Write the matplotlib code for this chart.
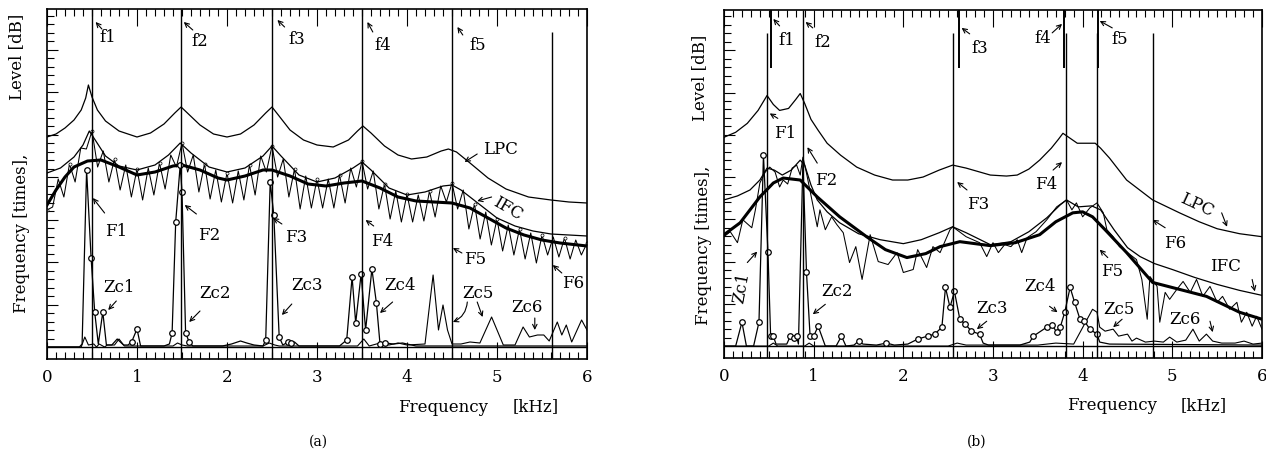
import numpy as np
import matplotlib.pyplot as plt

plt.rcParams['font.family'] = 'DejaVu Serif'

# ---------------- panel (a) ----------------
# LPC envelope
LPC_A_X = [0, 0.1, 0.2, 0.3, 0.38, 0.43, 0.46, 0.5, 0.56, 0.65, 0.8, 1.0, 1.15, 1.3, 1.42, 1.49,
           1.56, 1.7, 1.85, 2.0, 2.15, 2.3, 2.43, 2.5, 2.57, 2.7, 2.85, 3.0, 3.18, 3.35, 3.45, 3.51,
           3.6, 3.75, 3.9, 4.05, 4.22, 4.38, 4.46, 4.55, 4.7, 4.9, 5.1, 5.35, 5.6, 5.8, 6.0]
LPC_A_Y = [210, 213, 219, 227, 237, 249, 262, 250, 237, 226, 216, 210, 214, 223, 234, 240,
           234, 222, 213, 210, 213, 222, 234, 240, 232, 217, 207, 202, 200, 207, 216, 221,
           214, 201, 192, 188, 190, 196, 198, 195, 184, 169, 158, 150, 147, 145, 144]
# smoothed spectrum envelope (thin)
ENV_A_X = [0, 0.15, 0.3, 0.4, 0.47, 0.55, 0.65, 0.8, 1.0, 1.2, 1.35, 1.48, 1.6, 1.8, 2.0, 2.2,
           2.4, 2.5, 2.6, 2.8, 3.0, 3.2, 3.4, 3.5, 3.6, 3.8, 4.0, 4.2, 4.4, 4.5, 4.6, 4.8,
           5.0, 5.2, 5.4, 5.6, 5.8, 6.0]
ENV_A_Y = [174, 179, 190, 202, 216, 205, 191, 181, 177, 182, 192, 204, 194, 180, 175, 179,
           191, 201, 191, 172, 165, 169, 179, 185, 177, 159, 152, 155, 161, 162, 157, 143,
           129, 121, 116, 113, 112, 111]
# IFC (thick)
IFC_A_X = [0, 0.1, 0.2, 0.3, 0.45, 0.6, 0.8, 1.0, 1.2, 1.4, 1.5, 1.7, 1.9, 2.0, 2.2, 2.4, 2.5,
           2.7, 2.9, 3.1, 3.3, 3.5, 3.7, 3.9, 4.1, 4.3, 4.5, 4.7, 4.9, 5.1, 5.3, 5.5, 5.7, 6.0]
IFC_A_Y = [142, 157, 170, 180, 186, 187, 180, 172, 175, 181, 182, 177, 169, 167, 171, 177, 177,
           171, 163, 161, 164, 166, 159, 150, 146, 145, 144, 139, 129, 119, 112, 107, 104, 101]
# harmonic spectrum: peaks (every 0.125 kHz) and dips in between
SPEC_A_PEAK = [137, 168, 183, 199, 216, 196, 188, 182, 178, 179, 184, 192, 204, 192, 183, 177,
               174, 176, 182, 191, 201, 188, 178, 171, 168, 168, 172, 179, 186, 176, 163, 156,
               153, 152, 156, 161, 164, 157, 143, 135, 128, 122, 118, 114, 112, 110, 109, 107, 104]
SPEC_A_DIP = [140, 150, 165, 198, 180, 165, 157, 150, 147, 152, 158, 180, 175, 155, 148, 145,
              144, 147, 152, 175, 170, 150, 138, 139, 139, 139, 144, 160, 158, 138, 128, 125,
              125, 126, 130, 145, 138, 118, 108, 102, 96, 92, 88, 84, 92, 90, 88, 92]
# zero-crossing histogram (circles)
ZC_A_X = [0.0, 0.36, 0.39, 0.44, 0.49, 0.53, 0.57, 0.62, 0.66, 0.72, 0.78, 0.85, 0.90, 0.94,
          1.00, 1.04, 1.30, 1.36, 1.39, 1.43, 1.48, 1.50, 1.54, 1.58, 1.62, 1.70, 1.95, 2.05,
          2.15, 2.22, 2.30, 2.40, 2.43, 2.48, 2.52, 2.58, 2.62, 2.68, 2.71, 2.75, 2.80, 3.25,
          3.33, 3.39, 3.43, 3.49, 3.54, 3.61, 3.66, 3.70, 3.76, 3.85, 3.95, 4.10, 6.00]
ZC_A_Y = [0, 0, 3, 177, 89, 35, 3, 35, 2, 2, 8, 2, 2, 5, 18, 1, 1, 3, 14, 125, 182, 155, 14, 5,
          1, 1, 1, 3, 6, 4, 2, 1, 7, 165, 132, 10, 2, 5, 4, 5, 1, 1, 7, 70, 24, 73, 17, 78, 44,
          3, 4, 3, 4, 1, 1]
ZC_A_MX = [0.44, 0.49, 0.53, 0.62, 0.94, 1.00, 1.39, 1.43, 1.48, 1.50, 1.54, 1.58, 2.43, 2.48,
           2.52, 2.58, 2.68, 2.71, 3.33, 3.39, 3.43, 3.49, 3.54, 3.61, 3.66, 3.70, 3.76]
ZC_A_MY = [177, 89, 35, 35, 5, 18, 14, 125, 182, 155, 14, 5, 7, 165, 132, 10, 5, 4, 7, 70, 24,
           73, 17, 78, 44, 3, 4]
# second histogram (plus)
ZC2_A_X = [0.0, 0.38, 0.42, 0.46, 0.52, 0.55, 0.58, 0.64, 0.67, 0.75, 0.80, 0.86, 1.40, 1.45,
           1.50, 1.56, 2.40, 2.47, 2.53, 2.58, 3.45, 3.52, 3.58, 3.70, 3.80, 3.90, 4.00, 4.20,
           4.29, 4.35, 4.40, 4.45, 4.50, 4.60, 4.70, 4.81, 4.94, 5.07, 5.20, 5.29, 5.36, 5.45,
           5.52, 5.58, 5.67, 5.72, 5.77, 5.83, 5.94, 6.00]
ZC2_A_Y = [0, 0, 10, 2, 3, 0, 3, 0, 2, 2, 8, 1, 1, 4, 2, 1, 1, 4, 2, 1, 1, 8, 1, 4, 2, 4, 2, 3,
           72, 17, 42, 17, 3, 3, 5, 4, 30, 2, 2, 20, 10, 12, 12, 6, 25, 12, 22, 5, 27, 17]
VLINE_A_FULL = [0.50, 1.49, 2.50, 3.50, 4.50]
VLINE_A_PART = [5.61]

# ---------------- panel (b) ----------------
LPC_B_X = [0, 0.13, 0.26, 0.38, 0.48, 0.55, 0.62, 0.72, 0.80, 0.85, 0.90, 0.97, 1.05, 1.15,
           1.30, 1.48, 1.68, 1.88, 2.05, 2.22, 2.40, 2.55, 2.70, 2.97, 3.15, 3.27, 3.40, 3.52,
           3.65, 3.73, 3.78, 3.86, 3.94, 4.05, 4.14, 4.20, 4.30, 4.49, 4.78, 5.08, 5.30, 5.50,
           5.75, 6.00]
LPC_B_Y = [210, 215, 224, 237, 252, 243, 237, 239, 248, 254, 244, 228, 217, 204, 192, 180, 172,
           167, 167, 170, 177, 182, 179, 172, 171, 172, 178, 187, 199, 208, 214, 209, 204, 204,
           204, 199, 189, 167, 147, 134, 125, 118, 113, 110]
ENV_B_X = [0, 0.15, 0.29, 0.40, 0.48, 0.56, 0.65, 0.75, 0.85, 0.90, 0.97, 1.04, 1.15, 1.29,
           1.50, 1.74, 2.00, 2.20, 2.40, 2.55, 2.70, 2.97, 3.20, 3.40, 3.60, 3.75, 3.82, 3.95,
           4.10, 4.20, 4.35, 4.50, 4.64, 4.80, 5.00, 5.25, 5.50, 5.75, 6.00]
ENV_B_Y = [147, 151, 157, 167, 179, 177, 172, 177, 187, 182, 162, 147, 135, 124, 113, 107, 103,
           107, 114, 120, 114, 102, 105, 115, 129, 142, 147, 140, 141, 137, 117, 99, 90, 83, 77,
           69, 62, 56, 51]
IFC_B_X = [0, 0.18, 0.40, 0.55, 0.66, 0.85, 1.04, 1.29, 1.59, 1.80, 2.04, 2.25, 2.41, 2.63,
           2.97, 3.25, 3.52, 3.70, 3.89, 4.00, 4.11, 4.25, 4.49, 4.78, 5.08, 5.38, 5.75, 6.00]
IFC_B_Y = [112, 124, 150, 164, 169, 167, 150, 130, 110, 97, 89, 93, 100, 105, 101, 104, 112,
           125, 134, 135, 130, 117, 94, 64, 57, 50, 34, 27]
SPEC_B_X = [0.0, 0.07, 0.15, 0.21, 0.31, 0.35, 0.40, 0.46, 0.51, 0.57, 0.62, 0.66, 0.71, 0.76,
            0.81, 0.85, 0.88, 0.92, 0.98, 1.04, 1.07, 1.13, 1.20, 1.26, 1.33, 1.40, 1.47, 1.54,
            1.63, 1.72, 1.83, 1.93, 2.00, 2.11, 2.16, 2.26, 2.33, 2.41, 2.52, 2.55, 2.70, 2.85,
            2.93, 3.00, 3.06, 3.13, 3.20, 3.27, 3.32, 3.38, 3.48, 3.60, 3.71, 3.82, 3.88, 3.93,
            4.00, 4.08, 4.16, 4.23, 4.27, 4.34, 4.41, 4.50, 4.60, 4.66, 4.72, 4.75, 4.83, 4.86,
            4.92, 4.97, 5.05, 5.12, 5.20, 5.27, 5.34, 5.42, 5.50, 5.56, 5.64, 5.72, 5.77, 5.83,
            5.89, 5.94, 6.00]
SPEC_B_Y = [110, 115, 104, 127, 119, 137, 164, 175, 180, 175, 160, 167, 163, 179, 182, 172, 190,
            174, 147, 120, 137, 117, 130, 122, 114, 84, 100, 67, 112, 85, 82, 94, 74, 77, 97, 79,
            100, 94, 117, 120, 110, 104, 90, 104, 94, 102, 100, 107, 94, 109, 115, 127, 140, 147,
            137, 144, 130, 139, 144, 134, 117, 110, 100, 94, 87, 67, 27, 70, 60, 24, 54, 47, 57,
            65, 54, 67, 50, 60, 44, 50, 37, 44, 24, 34, 20, 30, 17]
ZC_B_X = [0.0, 0.13, 0.20, 0.25, 0.33, 0.39, 0.44, 0.49, 0.52, 0.55, 0.58, 0.70, 0.74, 0.78,
          0.81, 0.83, 0.88, 0.92, 0.96, 1.00, 1.05, 1.13, 1.25, 1.31, 1.36, 1.45, 1.50, 1.55,
          1.70, 1.81, 1.90, 2.05, 2.16, 2.27, 2.35, 2.43, 2.47, 2.52, 2.57, 2.63, 2.69, 2.76,
          2.85, 2.89, 2.95, 3.30, 3.41, 3.45, 3.60, 3.66, 3.71, 3.75, 3.80, 3.86, 3.91, 3.97,
          4.02, 4.08, 4.16, 4.19, 4.30, 6.00]
ZC_B_Y = [0, 0, 24, 0, 0, 24, 192, 95, 10, 10, 2, 2, 10, 8, 10, 2, 185, 74, 10, 10, 20, 0, 0,
          10, 0, 1, 5, 2, 1, 3, 1, 2, 7, 10, 12, 19, 59, 39, 55, 27, 22, 15, 12, 3, 1, 1, 4, 10,
          19, 21, 14, 19, 34, 59, 44, 27, 25, 17, 12, 4, 2, 1]
ZC_B_MX = [0.20, 0.39, 0.44, 0.49, 0.52, 0.55, 0.74, 0.78, 0.81, 0.92, 0.96, 1.00, 1.05, 1.31,
           1.50, 1.81, 2.16, 2.27, 2.35, 2.43, 2.47, 2.52, 2.57, 2.63, 2.69, 2.76, 2.85, 3.45,
           3.60, 3.66, 3.71, 3.75, 3.80, 3.86, 3.91, 3.97, 4.02, 4.08, 4.16]
ZC_B_MY = [24, 24, 192, 95, 10, 10, 10, 8, 10, 74, 10, 10, 20, 10, 5, 3, 7, 10, 12, 19, 59, 39,
           55, 27, 22, 15, 12, 10, 19, 21, 14, 19, 34, 59, 44, 27, 25, 17, 12]
ZC2_B_X = [0.0, 0.5, 0.55, 0.6, 0.9, 0.95, 1.0, 2.5, 2.6, 2.7, 3.5, 3.7, 3.9, 4.11, 4.16, 4.19,
           4.25, 4.34, 4.40, 4.50, 4.55, 4.60, 4.70, 4.80, 4.90, 4.97, 5.05, 5.15, 5.23, 5.30,
           5.38, 5.45, 5.55, 5.70, 5.80, 5.90, 6.00]
ZC2_B_Y = [0, 0, 3, 0, 0, 3, 0, 0, 3, 1, 1, 3, 2, 37, 34, 19, 15, 17, 10, 12, 5, 8, 4, 5, 4, 9,
           4, 6, 17, 5, 12, 5, 3, 3, 5, 2, 3]
VLINE_B_FULL = [0.88]
VLINE_B_TOP = [0.52, 2.62, 3.79, 4.17]
VLINE_B_LONG = [0.48, 2.55, 3.81, 4.16, 4.78]

# annotations: (text, x, y, rotation) and arrows (head, tail)
LABELS_A = [('f1', 0.68, 310, 0), ('f2', 1.70, 306, 0), ('f3', 2.78, 307, 0),
            ('f4', 3.73, 301, 0), ('f5', 4.79, 301, 0), ('LPC', 5.04, 197, 0),
            ('IFC', 5.12, 138, -30), ('F1', 0.77, 115, 0), ('F2', 1.80, 111, 0),
            ('F3', 2.77, 110, 0), ('F4', 3.72, 105, 0), ('F5', 4.76, 87, 0),
            ('F6', 5.85, 64, 0), ('Zc1', 0.80, 59, 0), ('Zc2', 1.87, 53, 0),
            ('Zc3', 2.89, 61, 0), ('Zc4', 3.92, 62, 0), ('Zc5', 4.79, 53, 0),
            ('Zc6', 5.33, 39, 0)]
ARROWS_A = [((0.54, 325), (0.61, 318)), ((1.52, 325), (1.62, 317)), ((2.56, 327), (2.64, 320)),
            ((3.56, 325), (3.62, 315)), ((4.56, 320), (4.62, 312)), ((4.64, 185), (4.78, 193)),
            ((4.78, 146), (4.94, 150)), ((0.51, 149), (0.64, 134)), ((1.53, 142), (1.66, 133)),
            ((2.51, 129), (2.61, 123)), ((3.54, 127), (3.63, 121)), ((4.51, 99), (4.61, 94)),
            ((5.62, 82), (5.72, 74)), ((0.68, 37), (0.77, 46)), ((1.58, 25), (1.70, 36)),
            ((2.61, 32), (2.72, 43)), ((3.70, 34), (3.84, 45)), ((4.84, 30), (4.78, 45)),
            ((5.42, 17), (5.42, 29))]
LABELS_B = [('f1', 0.70, 307, 0), ('f2', 1.10, 305, 0), ('f3', 2.85, 299, 0),
            ('f4', 3.55, 309, 0), ('f5', 4.41, 308, 0), ('F1', 0.68, 214, 0),
            ('F2', 1.14, 167, 0), ('F3', 2.83, 142, 0), ('F4', 3.59, 162, 0),
            ('F5', 4.33, 75, 0), ('F6', 5.03, 103, 0), ('LPC', 5.27, 142, -25),
            ('IFC', 5.59, 80, 0), ('Zc1', 0.20, 59, 80), ('Zc2', 1.26, 55, 0),
            ('Zc3', 2.99, 38, 0), ('Zc4', 3.52, 60, 0), ('Zc5', 4.41, 37, 0),
            ('Zc6', 5.14, 27, 0)]
ARROWS_B = [((0.55, 329), (0.62, 322)), ((0.91, 326), (0.99, 320)), ((2.65, 320), (2.74, 314)),
            ((3.77, 324), (3.66, 315)), ((4.19, 327), (4.33, 320)), ((0.51, 234), (0.60, 229)),
            ((0.93, 200), (1.04, 184)), ((2.60, 165), (2.71, 157)), ((3.77, 185), (3.67, 177)),
            ((4.19, 97), (4.28, 89)), ((4.78, 127), (4.92, 119)), ((5.61, 120), (5.55, 134)),
            ((5.92, 55), (5.89, 67)), ((0.37, 95), (0.26, 84)), ((0.99, 32), (1.13, 42)),
            ((2.82, 17), (2.93, 25)), ((3.72, 34), (3.63, 40)), ((4.34, 19), (4.44, 27)),
            ((5.45, 14), (5.42, 25))]

YBOT, YTOP = -12, 338


def setup(ax):
    ax.set_xlim(0, 6)
    ax.set_ylim(YBOT, YTOP)
    ax.set_xticks(range(7))
    ax.set_xticks(np.arange(0, 6.01, 0.1), minor=True)
    ax.set_yticks(np.arange(42.5, 335, 42.5))
    ax.set_yticks(np.arange(8.5, 335, 8.5), minor=True)
    ax.set_yticklabels([])
    ax.tick_params(which='both', direction='in', top=True, right=False, width=0.8)
    ax.tick_params(axis='x', which='major', length=12, labelsize=12, pad=7)
    ax.tick_params(axis='x', which='minor', length=5)
    ax.tick_params(axis='y', which='major', length=8)
    ax.tick_params(axis='y', which='minor', length=5)
    ax.axhline(0, color='k', lw=1.0)
    for s in ax.spines.values():
        s.set_linewidth(1.2)


def annotate(ax, labels, arrows):
    for txt, x, y, rot in labels:
        ax.text(x, y, txt, fontsize=12, ha='center', va='center', rotation=rot)
    for head, tail in arrows:
        ax.annotate('', xy=head, xytext=tail,
                    arrowprops=dict(arrowstyle='->', lw=0.8, color='k',
                                    shrinkA=0, shrinkB=0, mutation_scale=8))


fig = plt.figure(figsize=(12.66, 4.57), dpi=100)
ax_a = fig.add_axes([47 / 1266, 98 / 457, 540 / 1266, 350 / 457])
ax_b = fig.add_axes([724 / 1266, 99 / 457, 538 / 1266, 348 / 457])

# ---- draw (a)
setup(ax_a)
spec_a_x = np.arange(len(SPEC_A_PEAK) + len(SPEC_A_DIP)) * 0.0625
spec_a_y = np.empty(len(spec_a_x))
spec_a_y[0::2] = SPEC_A_PEAK
spec_a_y[1::2] = SPEC_A_DIP
ax_a.plot(spec_a_x, spec_a_y, color='k', lw=0.75)
ax_a.plot(spec_a_x[0::4], SPEC_A_PEAK[0::2], 'o', ms=2.2, mfc='white', mec='k', mew=0.5)
ax_a.plot(LPC_A_X, LPC_A_Y, color='k', lw=0.9)
ax_a.plot(ENV_A_X, ENV_A_Y, color='k', lw=0.9)
ax_a.plot(IFC_A_X, IFC_A_Y, color='k', lw=2.2)
ax_a.plot(ZC2_A_X, ZC2_A_Y, color='k', lw=0.8)
ax_a.plot(ZC_A_X, ZC_A_Y, color='k', lw=0.9)
ax_a.plot(ZC_A_MX, ZC_A_MY, 'o', ms=4, mfc='white', mec='k', mew=0.9)
ax_a.vlines(VLINE_A_FULL, YBOT, YTOP, color='k', lw=1.0)
ax_a.vlines(VLINE_A_PART, YBOT, 315, color='k', lw=1.0)
annotate(ax_a, LABELS_A, ARROWS_A)
ax_a.annotate('', xy=(4.51, 25), xytext=(4.67, 45),
              arrowprops=dict(arrowstyle='->', lw=0.8, color='k', shrinkA=0, shrinkB=0,
                              mutation_scale=8, connectionstyle='arc3,rad=-0.3'))
ax_a.text(4.40, -60, 'Frequency', fontsize=12, ha='center', va='center')
ax_a.text(5.43, -60, '[kHz]', fontsize=12, ha='center', va='center')

# ---- draw (b)
setup(ax_b)
ax_b.plot(SPEC_B_X, SPEC_B_Y, color='k', lw=0.75)
ax_b.plot(LPC_B_X, LPC_B_Y, color='k', lw=0.9)
ax_b.plot(ENV_B_X, ENV_B_Y, color='k', lw=0.9)
ax_b.plot(IFC_B_X, IFC_B_Y, color='k', lw=2.2)
ax_b.plot(ZC2_B_X, ZC2_B_Y, color='k', lw=0.8)
ax_b.plot(ZC_B_X, ZC_B_Y, color='k', lw=0.9)
ax_b.plot(ZC_B_MX, ZC_B_MY, 'o', ms=4, mfc='white', mec='k', mew=0.9)
ax_b.vlines(VLINE_B_FULL, YBOT, YTOP, color='k', lw=1.0)
ax_b.vlines(VLINE_B_TOP, 280, YTOP, color='k', lw=1.4)
ax_b.vlines(VLINE_B_LONG, YBOT, 315, color='k', lw=1.0)
annotate(ax_b, LABELS_B, ARROWS_B)
ax_b.text(4.33, -60, 'Frequency', fontsize=12, ha='center', va='center')
ax_b.text(5.35, -60, '[kHz]', fontsize=12, ha='center', va='center')

# y labels and panel captions
for x, y, s in [(17, 57, 'Level [dB]'), (22, 233, 'Frequency [times],'),
                (700, 78, 'Level [dB]'), (703, 245, 'Frequency [times],')]:
    fig.text(x / 1266, 1 - y / 457, s, rotation=90, ha='center', va='center', fontsize=12)
fig.text(318 / 1266, 1 - 442 / 457, '(a)', ha='center', va='center', fontsize=10)
fig.text(977 / 1266, 1 - 442 / 457, '(b)', ha='center', va='center', fontsize=10)

fig.savefig('out.png', dpi=100)
